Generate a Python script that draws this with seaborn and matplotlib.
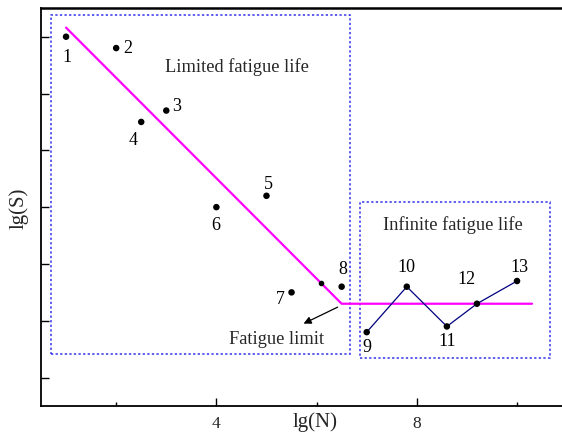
import matplotlib
matplotlib.use("Agg")
import matplotlib.pyplot as plt
from matplotlib.patches import Rectangle
from matplotlib.ticker import FixedLocator, NullFormatter
import numpy as np
import pandas as pd
import seaborn as sns

# Specimen test results: log cycles vs log stress
sample_ids = ["1", "2", "3", "4", "5", "6", "7", "8", "9", "10", "11", "12", "13"]
lg_n = [1.0, 2.0, 3.0, 2.5, 5.0, 4.0, 5.5, 6.5, 7.0, 7.8, 8.6, 9.2, 10.0]
lg_s = [7.0, 6.8, 5.7, 5.5, 4.2, 4.0, 2.5, 2.6, 1.8, 2.6, 1.9, 2.3, 2.7]

# Fitted S-N curve (sloped segment + fatigue-limit plateau)
curve_n = [1.0, 6.5, 10.3]
curve_s = [7.16, 2.3, 2.3]

# Run-out specimens connected in the infinite-life region
runout_ids = ["9", "10", "11", "12", "13"]

sns.set_theme(style="white")
plt.rcParams["font.family"] = ["Liberation Serif", "DejaVu Serif"]

fig = plt.figure(figsize=(5.62, 4.36), dpi=100)
ax = fig.add_axes([41 / 562, 30 / 436, 1 - 41 / 562 + 0.002, (406 - 8.3) / 436])

df = pd.DataFrame({"id": sample_ids, "lgN": lg_n, "lgS": lg_s})
curve = pd.DataFrame({"lgN": curve_n, "lgS": curve_s})
runout = df[df["id"].isin(runout_ids)]

sns.lineplot(data=curve, x="lgN", y="lgS", ax=ax, color="#ff00ff", lw=1.6,
             sort=False, estimator=None, zorder=2)
sns.lineplot(data=runout, x="lgN", y="lgS", ax=ax, color="#000080", lw=0.9,
             sort=False, estimator=None, zorder=3)
sns.scatterplot(data=df, x="lgN", y="lgS", ax=ax, color="black", s=22,
                edgecolor="none", zorder=4)
# small marker sitting on the sloped segment
slope = (curve_s[1] - curve_s[0]) / (curve_n[1] - curve_n[0])
mark_n = 6.08
ax.plot([mark_n], [curve_s[0] + slope * (mark_n - curve_n[0])], "o",
        color="black", ms=3, zorder=4)

# Number labels next to each specimen
offsets = {
    "1": (0.02, -0.36), "2": (0.24, 0.0), "3": (0.2, 0.07), "4": (-0.16, -0.33),
    "5": (0.04, 0.2), "6": (-0.02, -0.33), "7": (-0.22, -0.12), "8": (0.02, 0.3),
    "9": (0.0, -0.27), "10": (0.0, 0.33), "11": (0.0, -0.27), "12": (-0.2, 0.42),
    "13": (0.04, 0.23),
}
for sid, x, y in zip(sample_ids, lg_n, lg_s):
    dx, dy = offsets[sid]
    ax.text(x + dx, y + dy, sid, ha="center", va="center", fontsize=13,
            color="black", zorder=5)

# Region boxes
box_color = "#3333ee"
ax.add_patch(Rectangle((0.7, 1.41), 6.66 - 0.7, 7.38 - 1.41, fill=False,
                       ls=(0, (1.5, 1.5)), lw=1.1, edgecolor=box_color, zorder=1))
ax.add_patch(Rectangle((6.86, 1.35), 10.66 - 6.86, 4.09 - 1.35, fill=False,
                       ls=(0, (1.5, 1.5)), lw=1.1, edgecolor=box_color, zorder=1))

ax.text(4.42, 6.47, "Limited fatigue life", ha="center", va="center", fontsize=13.2)
ax.text(8.72, 3.68, "Infinite fatigue life", ha="center", va="center", fontsize=13.2)
ax.text(5.21, 1.67, "Fatigue limit", ha="center", va="center", fontsize=13.2)
ax.annotate("", xy=(5.74, 1.95), xytext=(6.42, 2.24),
            arrowprops=dict(arrowstyle="-|>", color="black", lw=0.9,
                            mutation_scale=11, shrinkA=0, shrinkB=0))

ax.set_xlim(0.5, 10.92)
ax.set_ylim(0.5, 7.5)

ax.xaxis.set_major_locator(FixedLocator([4, 8]))
ax.xaxis.set_minor_locator(FixedLocator([2, 6, 10]))
ax.yaxis.set_major_locator(FixedLocator([1, 2, 3, 4, 5, 6, 7]))
ax.yaxis.set_major_formatter(NullFormatter())
ax.tick_params(axis="x", which="major", direction="in", length=6, width=1,
               labelsize=12.5, pad=7, color="black", bottom=True)
ax.tick_params(axis="x", which="minor", direction="in", length=3, width=1,
               color="black", bottom=True)
ax.tick_params(axis="y", which="major", direction="in", length=6, width=1,
               color="black", left=True)

ax.set_xlabel("lg(N)", fontsize=15)
ax.set_ylabel("lg(S)", fontsize=15)
ax.xaxis.label.set_verticalalignment("center")
ax.xaxis.set_label_coords((315 - 41) / 521, (406 - 422) / 397.7)
ax.yaxis.label.set_verticalalignment("center")
ax.yaxis.label.set_horizontalalignment("center")
ax.yaxis.set_label_coords((19 - 41) / 521, (406 - 208) / 397.7)

for side in ["left", "bottom", "top"]:
    ax.spines[side].set_color("black")
    ax.spines[side].set_linewidth(1.3)
ax.spines["top"].set_linewidth(1.8)
ax.spines["right"].set_visible(False)

fig.savefig("out.png", dpi=100)
